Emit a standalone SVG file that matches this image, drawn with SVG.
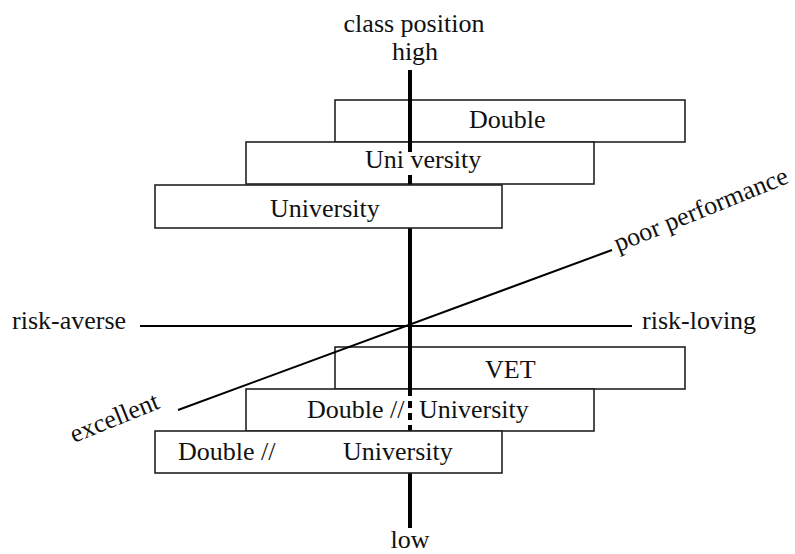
<svg xmlns="http://www.w3.org/2000/svg" width="795" height="554" viewBox="0 0 795 554">
<style>
text{font-family:"Liberation Serif","Times New Roman",serif;font-size:26px;fill:#111}
.box{fill:#fff;stroke:#222;stroke-width:1.6}
.axis{stroke:#000;stroke-width:4;fill:none}
.thin{stroke:#000;stroke-width:2;fill:none}
</style>
<rect width="795" height="554" fill="#fff"/>
<g id="labels">
<text x="414" y="32" text-anchor="middle">class position</text>
<text x="415" y="60" text-anchor="middle">high</text>
<text x="410" y="548" text-anchor="middle">low</text>
<text x="12" y="329">risk-averse</text>
<text x="642" y="329">risk-loving</text>
<text transform="translate(618,252) rotate(-22)">poor performance</text>
<text transform="translate(74,443) rotate(-22)">excellent</text>
</g>
<g id="node-double-top"><rect class="box" x="335" y="100" width="350" height="42"/></g>
<g id="node-university-2"><rect class="box" x="246" y="142" width="348" height="42"/></g>
<g id="node-vet"><rect class="box" x="335" y="347" width="350" height="42"/></g>
<g id="node-double-university-2"><rect class="box" x="246" y="389" width="348" height="42"/></g>
<g id="connectors">
<line class="axis" x1="410" y1="70" x2="410" y2="152"/>
<line class="axis" x1="410" y1="175" x2="410" y2="185"/>
<line class="axis" x1="410" y1="228" x2="410" y2="389"/>
<line class="axis" x1="410" y1="389" x2="410" y2="431" stroke-dasharray="7 5"/>
<line class="axis" x1="410" y1="473" x2="410" y2="528"/>
<line class="thin" x1="140" y1="326" x2="632" y2="326"/>
<line class="thin" x1="178" y1="410" x2="612" y2="250"/>
</g>
<g id="node-university-3"><rect class="box" x="155" y="185" width="347" height="43"/>
<text x="270" y="217">University</text></g>
<g id="node-double-university-3"><rect class="box" x="155" y="431" width="347" height="42"/>
<text x="178" y="460">Double //</text><text x="343" y="460">University</text></g>
<g id="node-texts">
<text x="469" y="128">Double</text>
<text x="365" y="168">Uni versity</text>
<text x="485" y="378">VET</text>
<text x="307" y="418">Double //</text>
<text x="419" y="418">University</text>
</g>
</svg>
